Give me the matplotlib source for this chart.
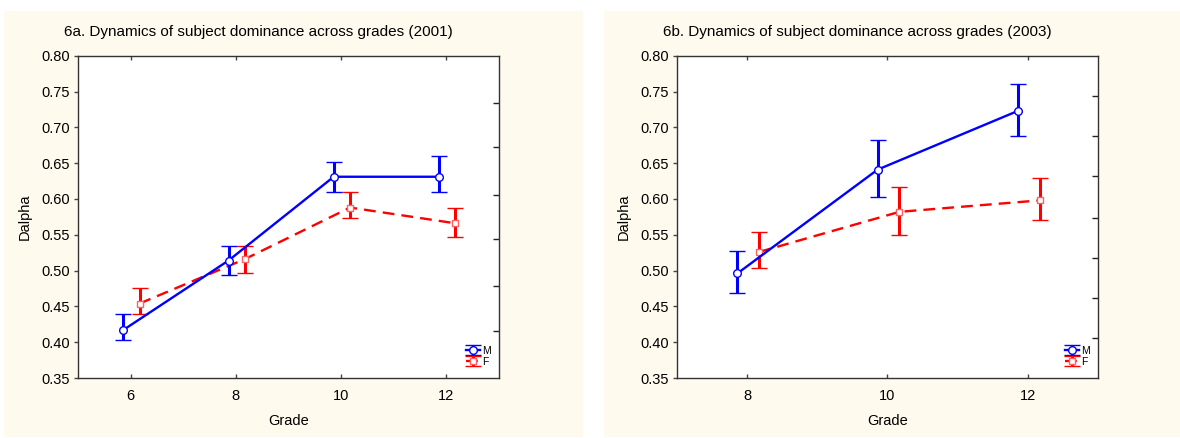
import numpy as np
import matplotlib.pyplot as plt
from matplotlib.patches import Rectangle

plt.rcParams['font.family'] = ['Liberation Sans', 'DejaVu Sans']

# Data
grades_a = [6, 8, 10, 12]
m_a = [0.417, 0.514, 0.631, 0.631]
m_a_lo = [0.4025, 0.494, 0.609, 0.609]
m_a_hi = [0.439, 0.534, 0.652, 0.660]
f_a = [0.454, 0.516, 0.588, 0.566]
f_a_lo = [0.439, 0.497, 0.573, 0.547]
f_a_hi = [0.475, 0.534, 0.609, 0.587]

grades_b = [8, 10, 12]
m_b = [0.496, 0.641, 0.723]
m_b_lo = [0.4685, 0.603, 0.688]
m_b_hi = [0.528, 0.682, 0.760]
f_b = [0.526, 0.582, 0.598]
f_b_lo = [0.504, 0.550, 0.570]
f_b_hi = [0.554, 0.616, 0.629]

titles = ["6a. Dynamics of subject dominance across grades (2001)",
          "6b. Dynamics of subject dominance across grades (2003)"]
yticks = [0.35, 0.40, 0.45, 0.50, 0.55, 0.60, 0.65, 0.70, 0.75, 0.80]
right_ticks_a = [0.416, 0.479, 0.544, 0.606, 0.673, 0.7335]
right_ticks_b = [0.4057, 0.4615, 0.5173, 0.5731, 0.6326, 0.6884, 0.7442]

W, H = 1180, 438
fig = plt.figure(figsize=(W / 100, H / 100), dpi=100)
fig.patch.set_facecolor('white')
cream = '#fffaee'
fig.patches.append(Rectangle((4 / W, 1 - 437 / H), 579 / W, 426 / H,
                             transform=fig.transFigure, facecolor=cream, edgecolor='none', zorder=-5))
fig.patches.append(Rectangle((604 / W, 1 - 437 / H), 576 / W, 426 / H,
                             transform=fig.transFigure, facecolor=cream, edgecolor='none', zorder=-5))

ax_w = 421 / W
ax_b = (H - 378) / H
ax_h = 322.3 / H
ax1 = fig.add_axes([78 / W, ax_b, ax_w, ax_h])
ax2 = fig.add_axes([677 / W, ax_b, ax_w, ax_h])

dm, df = -0.14, 0.17


def panel(ax, grades, m, mlo, mhi, f, flo, fhi, xlim, title, rticks):
    g = np.array(grades, dtype=float)
    m, mlo, mhi = map(np.array, (m, mlo, mhi))
    f, flo, fhi = map(np.array, (f, flo, fhi))
    em = ax.errorbar(g + dm, m, yerr=[m - mlo, mhi - m], color='#0000ff', lw=1.7,
                     elinewidth=2.2, capsize=5.5, capthick=2.2, marker='o', ms=5.5,
                     mfc='white', mec='#0000ff', mew=1.0, label='M', zorder=3)
    ef = ax.errorbar(g + df, f, yerr=[f - flo, fhi - f], color='#ff0000', lw=1.7,
                     elinewidth=2.2, capsize=5.5, capthick=2.2, marker='s', ms=5,
                     mfc='white', mec='#ff6060', mew=1.0, label='F', zorder=2)
    ef[0].set_linestyle((0, (5, 3)))
    ax.set_xlim(*xlim)
    ax.set_ylim(0.35, 0.80)
    ax.set_xticks(grades)
    ax.set_yticks(yticks)
    ax.set_yticklabels([f"{v:.2f}" for v in yticks])
    ax.set_yticks(rticks, minor=True)
    ax.tick_params(axis='y', which='major', direction='out', length=3, width=1,
                   color='#444444', labelsize=10.5, pad=3)
    ax.tick_params(axis='y', which='minor', left=False, right=True, direction='in',
                   length=4, width=1, color='#222222')
    ax.tick_params(axis='x', which='major', direction='in', length=3, width=1, top=True,
                   color='#444444', labelsize=10.5, pad=8)
    for s in ax.spines.values():
        s.set_color('#333333')
        s.set_linewidth(1.0)
    ax.set_facecolor('white')
    ax.set_xlabel('Grade', fontsize=10.5)
    ax.set_ylabel('Dalpha', fontsize=10.5)
    ax.xaxis.set_label_coords(0.5, -0.1325)
    ax.yaxis.set_label_coords(-53 / 421, 0.5)
    ax.xaxis.label.set_va('center')
    ax.yaxis.label.set_va('center')
    ax.text(0.5 - 30 / 421, 1 + 23.7 / 322.3, title, transform=ax.transAxes,
            ha='center', va='center', fontsize=11)
    ax.legend(handles=[em, ef], loc='lower right', bbox_to_anchor=(0.995, 0.016),
              frameon=False, fontsize=7.5, handlelength=1.3, handletextpad=0.2,
              labelspacing=0.1, borderaxespad=0.2)


panel(ax1, grades_a, m_a, m_a_lo, m_a_hi, f_a, f_a_lo, f_a_hi, (5, 13), titles[0], right_ticks_a)
panel(ax2, grades_b, m_b, m_b_lo, m_b_hi, f_b, f_b_lo, f_b_hi, (7, 13), titles[1], right_ticks_b)

fig.savefig('out.png', dpi=100, facecolor=fig.get_facecolor())
